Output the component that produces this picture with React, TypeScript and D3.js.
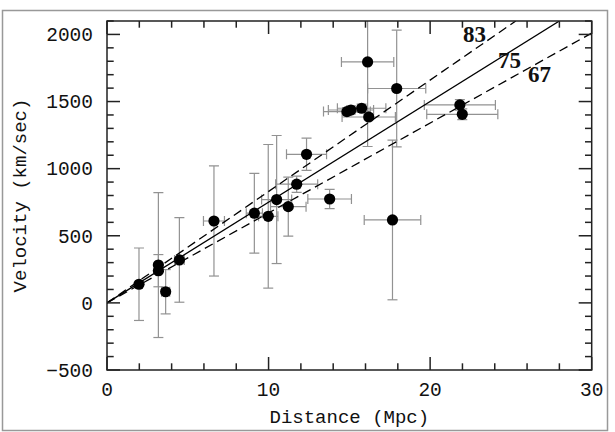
import React from "react";
import * as d3 from "d3";

const distance = [1.98, 3.18, 3.18, 3.63, 4.48, 6.62, 9.12, 9.98, 10.5, 11.22, 11.74, 12.35, 13.78, 14.85, 15.1, 15.76, 16.13, 16.2, 17.67, 17.93, 21.84, 21.99];
const velocity = [139, 282, 240, 83, 320, 610, 668, 645, 770, 717, 884, 1107, 774, 1425, 1437, 1450, 1795, 1385, 618, 1597, 1475, 1405];
const distErr = [0.1, 0.15, 0.15, 0.25, 0.3, 0.65, 0.5, 0.6, 0.93, 1.1, 1.3, 1.24, 1.35, 1.45, 1.4, 1.5, 1.62, 1.65, 1.75, 1.8, 2.2, 2.2];
const velErr = [270, 540, 120, 165, 315, 410, 297, 535, 477, 220, 60, 120, 72, 30, 30, 30, 630, 20, 595, 435, 40, 40];

const hubbleSlopes = [83, 75, 67];
const hubbleLabels = ["83", "75", "67"];
const xTicks = [0, 10, 20, 30];
const yTicks = [-500, 0, 500, 1000, 1500, 2000];

const W = 615, H = 432;
const L = 107, R = 591.7, T = 21, B = 370;

export default function App() {
  const x = d3.scaleLinear().domain([0, 30]).range([L, R]);
  const y = d3.scaleLinear().domain([-500, 2100]).range([B, T]);
  const xMinor = d3.range(0, 30.01, 2);
  const yMinor = d3.range(-500, 2100.01, 100);
  const line = d3.line<[number, number]>().x((d) => x(d[0])).y((d) => y(d[1]));
  const mono = "'Liberation Mono', 'DejaVu Sans Mono', monospace";
  const errColor = "#929292";
  const cap = 5;
  const labelPos = [
    { dx: 463, by: 42 },
    { dx: 498, by: 68 },
    { dx: 528, by: 82 },
  ];
  return (
    <svg width={W} height={H} style={{ position: "absolute", left: 0, top: 0, background: "#fff" }}>
      <defs>
        <clipPath id="plotclip">
          <rect x={L} y={T} width={R - L} height={B - T} />
        </clipPath>
      </defs>
      <rect x={2.5} y={10.5} width={605} height={420} fill="none" stroke="#999" strokeWidth={1.5} />
      {/* error bars */}
      <g clipPath="url(#plotclip)" stroke={errColor} strokeWidth={1.2} fill="none">
        {distance.map((d, i) => {
          const cx = x(d), cy = y(velocity[i]);
          const y1 = y(velocity[i] + velErr[i]), y2 = y(velocity[i] - velErr[i]);
          const x1 = x(d - distErr[i]), x2 = x(d + distErr[i]);
          return (
            <g key={i}>
              <line x1={cx} x2={cx} y1={y1} y2={y2} />
              <line x1={cx - cap} x2={cx + cap} y1={y1} y2={y1} />
              <line x1={cx - cap} x2={cx + cap} y1={y2} y2={y2} />
              <line x1={x1} x2={x2} y1={cy} y2={cy} />
              <line x1={x1} x2={x1} y1={cy - cap} y2={cy + cap} />
              <line x1={x2} x2={x2} y1={cy - cap} y2={cy + cap} />
            </g>
          );
        })}
      </g>
      {/* Hubble lines */}
      <g clipPath="url(#plotclip)" fill="none" stroke="#000" strokeWidth={1.3}>
        {hubbleSlopes.map((s, i) => {
          const xe = Math.min(30, 2100 / s);
          return (
            <path
              key={s}
              d={line([[0, 0], [xe, s * xe]]) || ""}
              strokeDasharray={i === 1 ? undefined : "9,5"}
            />
          );
        })}
      </g>
      {/* points */}
      <g fill="#000">
        {distance.map((d, i) => (
          <circle key={i} cx={x(d)} cy={y(velocity[i])} r={5.6} />
        ))}
      </g>
      {/* labels for lines */}
      {hubbleLabels.map((t, i) => (
        <text key={t} x={labelPos[i].dx} y={labelPos[i].by} fontFamily="'Liberation Serif', serif" fontWeight="bold" fontSize={23} fill="#111">
          {t}
        </text>
      ))}
      {/* axes box */}
      <rect x={L} y={T} width={R - L} height={B - T} fill="none" stroke="#222" strokeWidth={1.5} />
      <g stroke="#222" strokeWidth={1.5}>
        {xMinor.map((v) => {
          const len = v % 10 === 0 ? 13 : 6.7;
          return (
            <g key={"x" + v}>
              <line x1={x(v)} x2={x(v)} y1={B} y2={B - len} />
              <line x1={x(v)} x2={x(v)} y1={T} y2={T + len} />
            </g>
          );
        })}
        {yMinor.map((v) => {
          const len = Math.round(v) % 500 === 0 ? 13 : 6.7;
          return (
            <g key={"y" + v}>
              <line x1={L} x2={L + len} y1={y(v)} y2={y(v)} />
              <line x1={R} x2={R - len} y1={y(v)} y2={y(v)} />
            </g>
          );
        })}
      </g>
      {/* tick labels */}
      <g fontFamily={mono} fontSize={19.5} fill="#111">
        {xTicks.map((v) => (
          <text key={v} x={x(v)} y={396} textAnchor="middle">{v}</text>
        ))}
        {yTicks.map((v) => (
          <text key={v} x={93} y={y(v)} dy="0.35em" textAnchor="end">
            {v < 0 ? "\u2212" + Math.abs(v) : String(v)}
          </text>
        ))}
      </g>
      <text x={(L + R) / 2} y={423} textAnchor="middle" fontFamily={mono} fontSize={19} fill="#111">
        Distance (Mpc)
      </text>
      <text
        transform={`translate(26, ${(T + B) / 2}) rotate(-90)`}
        textAnchor="middle"
        fontFamily={mono}
        fontSize={19}
        fill="#111"
      >
        Velocity (km/sec)
      </text>
    </svg>
  );
}
